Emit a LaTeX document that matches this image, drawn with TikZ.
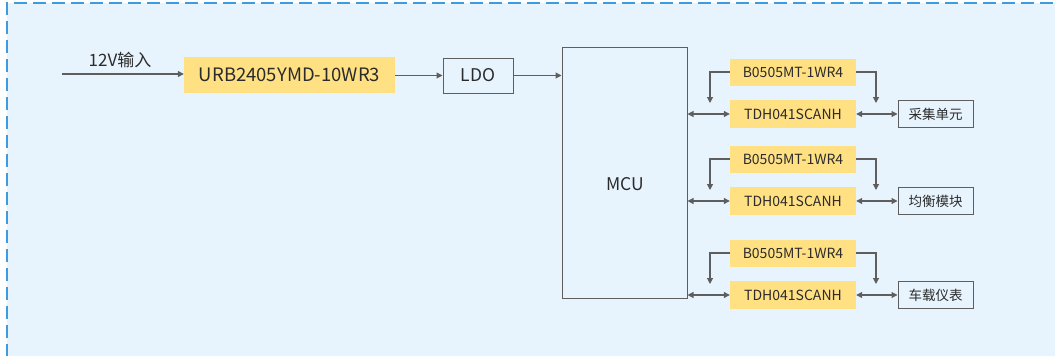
\documentclass[tikz,border=0pt]{standalone}
\usepackage{fontspec}
\setmainfont{Noto Sans CJK SC}
\usetikzlibrary{arrows.meta}
\definecolor{bgblue}{HTML}{E8F4FD}
\definecolor{dashblue}{HTML}{3D9BE0}
\definecolor{boxyellow}{HTML}{FFE083}
\definecolor{linegray}{HTML}{5E5E5E}
\definecolor{txt}{HTML}{2B2B2B}
\tikzset{
  ybox/.style={fill=boxyellow, draw=none, inner sep=0pt, text=txt},
  gbox/.style={draw=linegray, line width=1pt, fill=bgblue, inner sep=0pt, text=txt},
  conn/.style={draw=linegray, line width=1.1pt, -{Triangle[length=6pt,width=6pt]}},
  dconn/.style={draw=linegray, line width=1.1pt, {Triangle[length=6pt,width=6pt]}-{Triangle[length=6pt,width=6pt]}},
  smallf/.style={font=\fontsize{14}{16}\selectfont},
}
\begin{document}
\begin{tikzpicture}[x=1pt,y=-1pt]
\useasboundingbox (0,0) rectangle (1055,356);
\fill[bgblue] (7,3) rectangle (1056,357);
\draw[dashblue, line width=1.6pt, dash pattern=on 13pt off 6pt] (7,357) -- (7,3) -- (1056,3);

% input
\coordinate (in) at (62,74);
\node[ybox, minimum width=211pt, minimum height=36pt, font=\fontsize{18.5}{20}\selectfont] (urb) at (289.5,75) {URB2405YMD-10WR3};
\draw[conn] (in) -- (urb.west |- in);
\node[text=txt, font=\fontsize{17}{19}\selectfont] (lbl) at (120,60) {12V输入};
\node[gbox, minimum width=70pt, minimum height=35pt, font=\fontsize{17.5}{19}\selectfont] (ldo) at (478,75.5) {LDO};
\draw[conn] (urb.east |- ldo) -- (ldo.west);
\node[gbox, minimum width=125pt, minimum height=251pt] (mcu) at (624.5,172.5) {};
\node[text=txt, font=\fontsize{17.5}{19}\selectfont] (mcutext) at (625,184) {MCU};
\draw[conn] (ldo.east) -- (mcu.west |- ldo);

% rows
\foreach \i/\by/\ty/\name in {1/72/114/采集单元, 2/159/201/均衡模块, 3/253/295/车载仪表}{
  \node[ybox, minimum width=126pt, minimum height=27pt, smallf] (b\i) at (793,\by) {B0505MT-1WR4};
  \node[ybox, minimum width=126pt, minimum height=28pt, smallf] (t\i) at (793,\ty) {TDH041SCANH};
  \node[gbox, minimum width=75pt, minimum height=27pt, font=\fontsize{13.5}{15}\selectfont] (o\i) at (935.5,\ty) {\name};
  \coordinate (la\i) at (710,\ty-11);
  \coordinate (ra\i) at (876,\ty-11);
  \draw[conn] (b\i.west) -| (la\i);
  \draw[conn] (b\i.east) -| (ra\i);
  \draw[dconn] (mcu.east |- t\i) -- (t\i.west);
  \draw[dconn] (t\i.east) -- (o\i.west);
}
\end{tikzpicture}
\end{document}
